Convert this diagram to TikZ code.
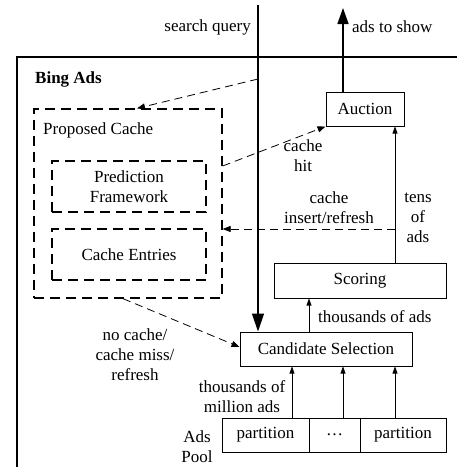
\documentclass[tikz,border=0pt]{standalone}
\usepackage{fontspec}
\setmainfont{Liberation Serif}
\usetikzlibrary{arrows.meta}
\begin{document}
\begin{tikzpicture}[x=1pt,y=1pt,
  every node/.style={font=\fontsize{17}{20}\selectfont},
  box/.style={draw,line width=1pt,inner sep=0pt,minimum height=34pt},
  dbox/.style={draw,line width=1.3pt,dash pattern=on 10pt off 6pt,inner sep=0pt},
  lbl/.style={inner sep=0pt,align=center},
  thin/.style={line width=0.6pt,-{Triangle[length=7pt,width=5pt]}},
  dconn/.style={line width=0.8pt,dash pattern=on 8pt off 5pt,-{Triangle[length=8pt,width=6pt]}}]
\clip (0,0) rectangle (457,-467);
\fill[white] (0,0) rectangle (457,-467);
% outer box
\draw[line width=1.2pt] (17,-500) -- (17,-57) -- (480,-57);
\node[lbl,anchor=west,font=\fontsize{17}{20}\selectfont\bfseries] (bing) at (35,-79) {Bing Ads};
% boxes
\node[box,minimum width=78pt] (auction) at (365,-109) {Auction};
\node[box,minimum width=172pt,minimum height=35pt] (scoring) at (360,-280.5) {Scoring};
\node[box,minimum width=172pt] (cand) at (326,-349) {Candidate Selection};
\node[box,minimum width=87pt] (p1) at (265.5,-435) {partition};
\node[box,minimum width=51pt] (dots) at (334.5,-435) {\dots};
\node[box,minimum width=86pt] (p2) at (403,-435) {partition};
% cache
\node[dbox,minimum width=188pt,minimum height=189pt] (pc) at (128,-203.5) {};
\node[lbl,anchor=west] (pctext) at (43,-130) {Proposed Cache};
\node[dbox,align=center,minimum width=154pt,minimum height=51pt] (pf) at (129,-186.5) {Prediction\\Framework};
\node[dbox,minimum width=154pt,minimum height=51pt] (ce) at (129,-254.5) {Cache Entries};
% search query
\coordinate (sq) at (258,-5);
\coordinate (sqb) at (258,-79);
\draw[line width=1.3pt,-{Triangle[length=18pt,width=12pt]}] (sq) -- (sq |- cand.north);
\node[lbl,anchor=east] (sqt) at (251,-27) {search query};
\draw[dconn] (sqb) -- ([xshift=9pt]pc.north);
% ads to show
\coordinate (ads) at (343,-8);
\draw[line width=1.5pt,-{Triangle[length=16pt,width=11pt]}] (ads |- auction.north) -- (ads);
\node[lbl,anchor=west] (adst) at (352,-27) {ads to show};
% cache hit
\draw[dconn] ([yshift=37.5pt]pc.east) -- (auction.south west);
\node[lbl] (hit) at (303,-156) {cache\\hit};
% tens of ads
\draw[thin] ([xshift=35pt]scoring.north) -- ([xshift=35pt]scoring.north |- auction.south);
\node[lbl] (tens) at (418,-218) {tens\\of\\ads};
% cache insert
\draw[dconn] ([xshift=35pt]scoring.north |- 0,-229) -- (pc.east |- 0,-229);
\node[lbl] (ins) at (329,-208) {cache\\insert/refresh};
% thousands of ads
\draw[thin] ([xshift=-17pt]cand.north) -- ([xshift=-17pt]cand.north |- scoring.south);
\node[lbl,anchor=west] (thads) at (318,-317) {thousands of ads};
% no cache
\draw[dconn] ([xshift=-5pt]pc.south) -- ([yshift=2pt]cand.west);
\node[lbl] (nc) at (135,-355) {no cache/\\cache miss/\\refresh};
% partitions
\draw[thin] ([xshift=26.5pt]p1.north) -- ([xshift=26.5pt]p1.north |- cand.south);
\draw[thin] ([xshift=8.5pt]dots.north) -- ([xshift=8.5pt]dots.north |- cand.south);
\draw[thin] ([xshift=-8pt]p2.north) -- ([xshift=-8pt]p2.north |- cand.south);
\node[lbl] (mil) at (242,-397) {thousands of\\million ads};
\node[lbl] (pool) at (197,-447) {Ads\\Pool};
\end{tikzpicture}
\end{document}
